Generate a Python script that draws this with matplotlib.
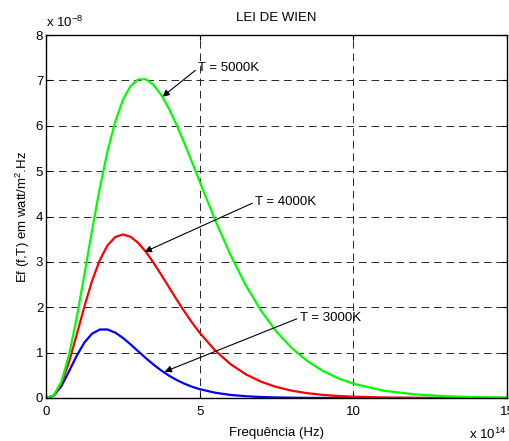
import matplotlib
matplotlib.use('Agg')
import matplotlib.pyplot as plt

plt.rcParams['font.family'] = ['Liberation Sans', 'DejaVu Sans']
plt.rcParams['mathtext.fontset'] = 'custom'
plt.rcParams['mathtext.rm'] = 'Liberation Sans'
plt.rcParams['mathtext.it'] = 'Liberation Sans:italic'
plt.rcParams['lines.scale_dashes'] = False

# frequencia em unidades de 1e14 Hz, Ef em unidades de 1e-8
freq = [0, 0.25, 0.5, 0.75, 1.0, 1.25, 1.5, 1.75, 2.0, 2.25, 2.5, 2.75, 3.0,
        3.25, 3.5, 3.75, 4.0, 4.25, 4.5, 4.75, 5.0, 5.5, 6.0, 6.5, 7.0, 7.5,
        8.0, 8.5, 9.0, 9.5, 10, 11, 12, 13, 14, 15]

e5000 = [0, 0.057, 0.358, 0.950, 1.773, 2.724, 3.704, 4.626, 5.433, 6.085,
         6.566, 6.876, 7.022, 7.024, 6.901, 6.677, 6.375, 6.016, 5.618, 5.198,
         4.769, 3.928, 3.157, 2.484, 1.920, 1.461, 1.098, 0.815, 0.599, 0.436,
         0.315, 0.160, 0.080, 0.039, 0.019, 0.009]

e4000 = [0, 0.054, 0.318, 0.794, 1.395, 2.018, 2.583, 3.039, 3.362, 3.546,
         3.604, 3.554, 3.418, 3.220, 2.980, 2.716, 2.442, 2.170, 1.909, 1.663,
         1.437, 1.050, 0.748, 0.522, 0.358, 0.242, 0.161, 0.106, 0.069, 0.045,
         0.029, 0.011, 0.0045, 0.0017, 0.0007, 0.0003]

e3000 = [0, 0.048, 0.260, 0.588, 0.934, 1.224, 1.418, 1.509, 1.510, 1.442,
         1.326, 1.183, 1.030, 0.878, 0.735, 0.606, 0.493, 0.397, 0.316, 0.249,
         0.195, 0.117, 0.068, 0.039, 0.022, 0.012, 0.0066, 0.0035, 0.0019,
         0.001, 0.0005, 0.0001, 0, 0, 0, 0]

rotulos = ['T = 5000K', 'T = 4000K', 'T = 3000K']
setas = [(3.79, 6.64), (3.21, 3.22), (3.86, 0.58)]      # ponta da seta
textos = [(4.95, 7.27), (6.80, 4.32), (8.25, 1.77)]     # posicao do texto

fs = 9.5

fig = plt.figure(figsize=(5.09, 4.41), dpi=100)
ax = fig.add_axes([46/509, 1 - 398/441, 461/509, 363/441])

ax.plot(freq, e3000, color=(0, 0, 1), lw=1.6)
ax.plot(freq, e4000, color=(1, 0, 0), lw=1.6)
ax.plot(freq, e5000, color=(0, 1, 0), lw=1.6)

ax.set_xlim(0, 15)
ax.set_ylim(0, 8)
ax.set_xticks([0, 5, 10, 15])
ax.set_yticks(range(0, 9))
ax.grid(True, color='0.15', lw=0.7, linestyle=(0, (5.5, 3.5)))
ax.tick_params(direction='in', top=True, right=True, length=3.5, width=0.8,
               labelsize=fs)
ax.tick_params(axis='x', pad=6)
ax.tick_params(axis='y', pad=2)
for s in ax.spines.values():
    s.set_linewidth(1.0)

for lab, pt, tx in zip(rotulos, setas, textos):
    ax.annotate(lab, xy=pt, xytext=tx, fontsize=fs, ha='left', va='center',
                arrowprops=dict(arrowstyle='-|>', color='k', lw=0.8,
                                mutation_scale=10, shrinkA=0, shrinkB=0,
                                relpos=(0, 0.5)))

ax.set_xlabel('Frequência (Hz)', fontsize=fs, labelpad=6)
ax.set_ylabel('Ef (f,T) em watt/m$^2$.Hz', fontsize=fs, labelpad=3)
fig.text(276.5/509, 1 - 18/441, 'LEI DE WIEN', fontsize=fs, ha='center',
         va='center')
fig.text(46/509, 1 - 22/441, 'x 10$^{-8}$', fontsize=fs, ha='left',
         va='center')
fig.text(469/509, 1 - 434/441, 'x 10$^{14}$', fontsize=fs, ha='left',
         va='center')

fig.savefig('out.png', dpi=100)
